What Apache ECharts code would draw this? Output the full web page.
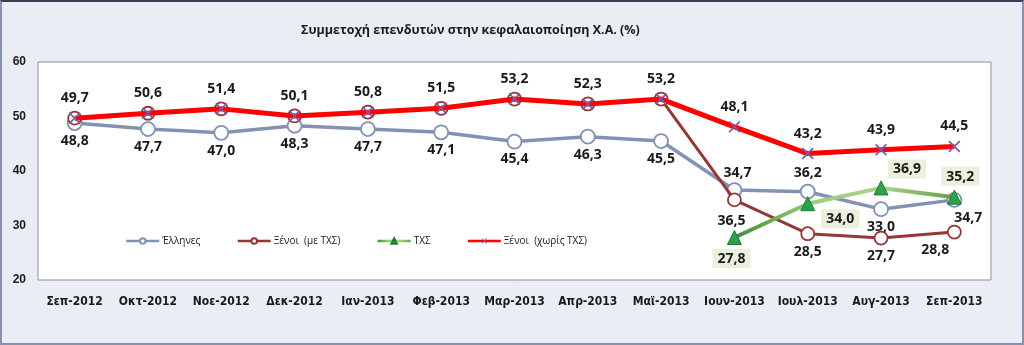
<!DOCTYPE html>
<html><head><meta charset="utf-8">
<script src="https://cdn.jsdelivr.net/npm/echarts@6/dist/echarts.min.js"></script>
<style>
html,body{margin:0;padding:0;background:#ebedf4;}
#wrap{position:absolute;left:0;top:0;width:1020px;height:341px;border:2px solid #8a90b0;border-top-color:#3a3f55;background:#ebedf4;}
#chart{width:1020px;height:341px;}
</style></head>
<body><div id="wrap"><div id="chart"></div></div>
<script>
const categories = ['Σεπ-2012','Οκτ-2012','Νοε-2012','Δεκ-2012','Ιαν-2013','Φεβ-2013','Μαρ-2013','Απρ-2013','Μαϊ-2013','Ιουν-2013','Ιουλ-2013','Αυγ-2013','Σεπ-2013'];
const greeks = [48.8, 47.7, 47.0, 48.3, 47.7, 47.1, 45.4, 46.3, 45.5, 36.5, 36.2, 33.0, 34.7];
const foreignWithHFSF = [49.7, 50.6, 51.4, 50.1, 50.8, 51.5, 53.2, 52.3, 53.2, 34.7, 28.5, 27.7, 28.8];
const hfsf = [null, null, null, null, null, null, null, null, null, 27.8, 34.0, 36.9, 35.2];
const foreignWithoutHFSF = [49.7, 50.6, 51.4, 50.1, 50.8, 51.5, 53.2, 52.3, 53.2, 48.1, 43.2, 43.9, 44.5];
const seriesNames = ['Έλληνες', 'Ξένοι  (με ΤΧΣ)', 'ΤΧΣ', 'Ξένοι  (χωρίς ΤΧΣ)'];
const yTicks = [20, 30, 40, 50, 60];
const titleText = 'Συμμετοχή επενδυτών στην κεφαλαιοποίηση Χ.Α. (%)';

const chart = echarts.init(document.getElementById('chart'), null, {renderer:'canvas'});
const fmt = p => Number(p.value).toFixed(1).replace('.', ',');
const lblBase = {show:true, formatter:fmt, fontFamily:'"Open Sans", sans-serif', fontWeight:'bold', fontSize:14, color:'#1a1a1a'};

const greekLabel = i => {
  if (i === 9) return {position:'bottom', distance:3, offset:[-3, 13]};
  if (i === 10) return {position:'top', distance:4};
  if (i === 12) return {position:'bottom', distance:3, offset:[14, 0]};
  return {position:'bottom', distance:3};
};
const brownLabel = i => {
  if (i < 9) return {show:false};
  if (i === 9) return {show:true, position:'top', distance:4, offset:[3, -8]};
  if (i === 12) return {show:true, position:'bottom', distance:4, offset:[-19, 0]};
  return {show:true, position:'bottom', distance:4};
};
const greenLabel = i => {
  if (i === 9) return {position:'bottom', distance:4, offset:[-3, 0]};
  if (i === 10) return {position:'right', distance:6, offset:[0, 15]};
  if (i === 11) return {position:'top', distance:4, offset:[26, 2]};
  if (i === 12) return {position:'top', distance:4, offset:[6, 0]};
  return {};
};

const xSym = 'path://M0,1L1,0L5,4L9,0L10,1L6,5L10,9L9,10L5,6L1,10L0,9L4,5Z';
const greenGrad = new echarts.graphic.LinearGradient(0,0,1,0,[
  {offset:0, color:'#3a8b36'},{offset:0.35, color:'#9ccd78'},{offset:0.66, color:'#a9d48a'},{offset:1, color:'#5f9e45'}]);

chart.setOption({
  animation:false,
  backgroundColor:'#ebedf4',
  title:{text:titleText, left:294, top:17, textStyle:{fontFamily:'"Open Sans", sans-serif', fontWeight:'bold', fontSize:12.5, color:'#1a1a1a'}},
  grid:{left:36, right:31, top:60, bottom:63, show:true, backgroundColor:'#ffffff', borderColor:'#8c8fa3', borderWidth:1},
  legend:{
    data:seriesNames, left:118, top:229, itemGap:36, itemWidth:33, itemHeight:7,
    lineStyle:{width:2.5},
    textStyle:{fontFamily:'"Open Sans", sans-serif', fontSize:10, color:'#1a1a1a', padding:[0,0,0,-2]}
  },
  xAxis:{
    type:'category', data:categories, boundaryGap:true,
    axisLine:{show:false}, axisTick:{show:false}, splitLine:{show:false},
    axisLabel:{margin:16, fontFamily:'"Liberation Sans Narrow", "DejaVu Sans Condensed", sans-serif', fontWeight:'bold', fontSize:12, color:'#1a1a1a', interval:0}
  },
  yAxis:{
    type:'value', min:yTicks[0], max:yTicks[yTicks.length-1], interval:10,
    axisLine:{show:false}, axisTick:{show:false}, splitLine:{show:false},
    axisLabel:{margin:12, fontFamily:'"Liberation Sans", Arial, sans-serif', fontWeight:'bold', fontSize:12, color:'#1a1a1a'}
  },
  series:[
    {name:seriesNames[0], type:'line', symbol:'circle', symbolSize:14,
     lineStyle:{color:'#8291b4', width:3.5}, itemStyle:{color:'#ffffff', borderColor:'#8291b4', borderWidth:1.8},
     data:greeks.map((v,i)=>({value:v, label:Object.assign({}, lblBase, greekLabel(i))})), z:2},
    {name:seriesNames[1], type:'line', symbol:'circle', symbolSize:13,
     lineStyle:{color:'#953735', width:3}, itemStyle:{color:'#ffffff', borderColor:'#953735', borderWidth:1.8},
     data:foreignWithHFSF.map((v,i)=>({value:v, label:Object.assign({}, lblBase, brownLabel(i))})), z:3},
    {name:seriesNames[2], type:'line', symbol:'triangle', symbolSize:14, connectNulls:false,
     lineStyle:{color:greenGrad, width:4}, itemStyle:{color:'#2ea24a', borderColor:'#1f7a34', borderWidth:1},
     data:hfsf.map((v,i)=>({value:v, label:Object.assign({}, lblBase, {backgroundColor:'#eaf0dc', padding:[3,5,2,5]}, greenLabel(i))})), z:4},
    {name:seriesNames[3], type:'line', symbol:xSym, symbolSize:12,
     lineStyle:{color:'#ff0000', width:5}, itemStyle:{color:'#7a5aa8', borderWidth:0},
     data:foreignWithoutHFSF.map((v,i)=>({value:v, label:Object.assign({}, lblBase, {position:'top', distance:7})})), z:5}
  ]
});
</script></body></html>
